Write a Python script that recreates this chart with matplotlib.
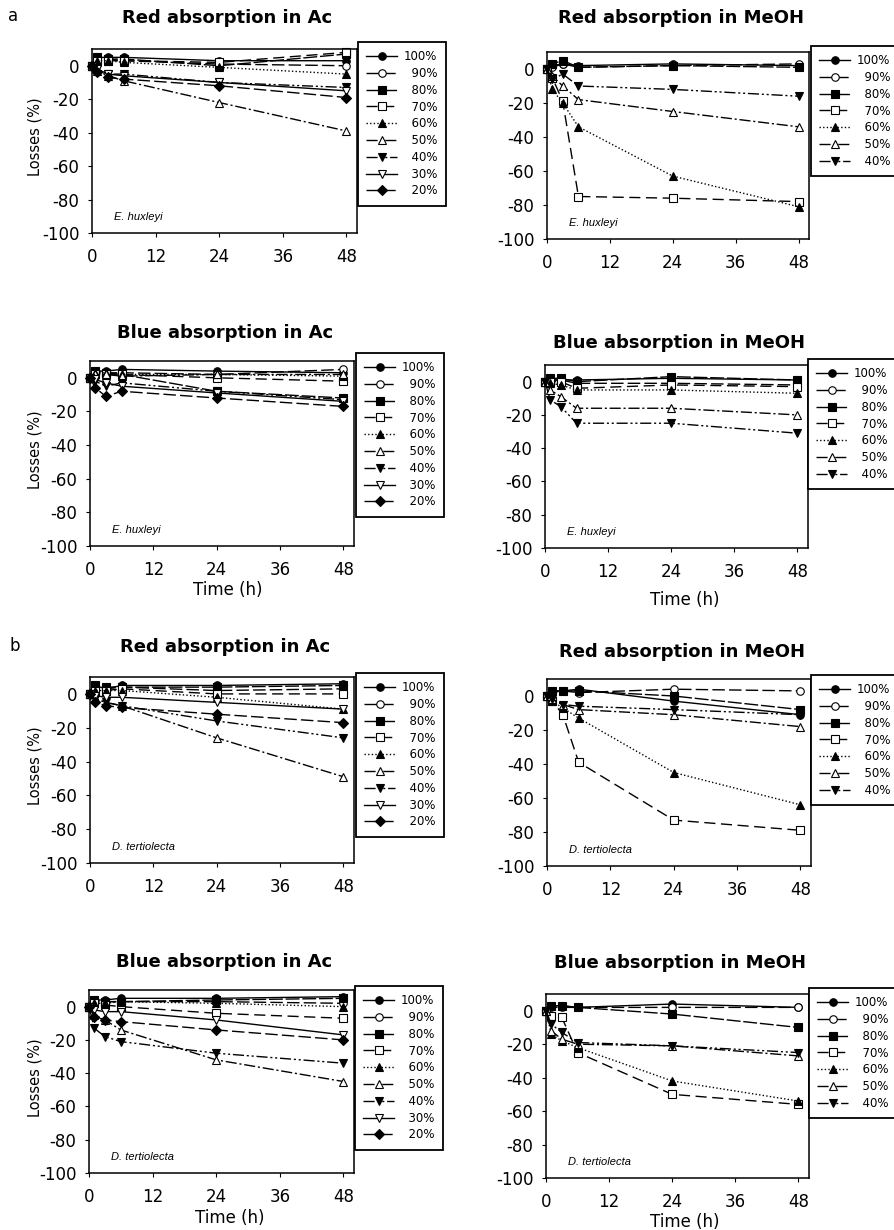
import matplotlib
matplotlib.use('Agg')
import matplotlib.pyplot as plt

W, H = 895, 1230
plt.rcParams['font.family'] = ['DejaVu Sans']
plt.rcParams['axes.unicode_minus'] = False

# ---------------- data ----------------
times = [0, 1, 3, 6, 24, 48]
series_labels = ['100%', '90%', '80%', '70%', '60%', '50%', '40%', '30%', '20%']
yticks = [0, -20, -40, -60, -80, -100]
xticks = [0, 12, 24, 36, 48]

titles = ['Red absorption in Ac', 'Red absorption in MeOH',
          'Blue absorption in Ac', 'Blue absorption in MeOH',
          'Red absorption in Ac', 'Red absorption in MeOH',
          'Blue absorption in Ac', 'Blue absorption in MeOH']
species = ['E. huxleyi'] * 4 + ['D. tertiolecta'] * 4

red_ac_ehux = [
    [0, 5, 5, 5, 3, 3],
    [0, 4, 4, 3, 1, 0],
    [0, 5, 4, 4, 0, 7],
    [0, 3, 3, 3, 2, 8],
    [0, 3, 3, 2, -1, -5],
    [0, -3, -6, -9, -22, -39],
    [0, -2, -5, -5, -10, -13],
    [0, -2, -5, -6, -10, -15],
    [0, -4, -7, -8, -12, -19],
]
red_meoh_ehux = [
    [0, 2, 3, 2, 3, 2],
    [0, 1, 3, 1, 2, 3],
    [0, 3, 5, 1, 2, 1],
    [0, -5, -19, -75, -76, -78],
    [0, -12, -20, -34, -63, -81],
    [0, -4, -10, -18, -25, -34],
    [0, -6, -3, -10, -12, -16],
]
blue_ac_ehux = [
    [0, 4, 4, 5, 4, 3],
    [0, 3, 3, 3, 2, 5],
    [0, 4, 3, 2, -8, -12],
    [0, 2, 2, 2, 0, -2],
    [0, 3, 3, 2, 2, 1],
    [0, 2, 2, 1, 2, 2],
    [0, -2, -5, -3, -8, -13],
    [0, -1, -3, -5, -9, -14],
    [0, -6, -11, -8, -12, -17],
]
blue_meoh_ehux = [
    [0, 1, 1, 1, 2, 1],
    [0, 1, 1, -1, -1, -2],
    [0, 2, 2, 0, 3, 1],
    [0, 0, 0, -4, -2, -3],
    [0, -1, -2, -5, -5, -7],
    [0, -5, -9, -16, -16, -20],
    [0, -11, -15, -25, -25, -31],
]
red_ac_dter = [
    [0, 5, 3, 5, 5, 6],
    [0, 4, 3, 4, 2, 3],
    [0, 5, 4, 4, 4, 5],
    [0, 2, 2, 3, 0, 0],
    [0, 2, 2, 2, -2, -9],
    [0, -3, -5, -7, -26, -49],
    [0, -3, -5, -7, -16, -26],
    [0, -1, -2, -2, -5, -9],
    [0, -5, -7, -8, -12, -17],
]
red_meoh_dter = [
    [0, 3, 3, 4, -3, -11],
    [0, 2, 3, 2, 4, 3],
    [0, 3, 3, 3, 0, -8],
    [0, -3, -11, -39, -73, -79],
    [0, -3, -7, -13, -45, -64],
    [0, -2, -5, -8, -11, -18],
    [0, -2, -5, -6, -8, -11],
]
blue_ac_dter = [
    [0, 4, 4, 5, 5, 6],
    [0, 3, 3, 3, 3, 2],
    [0, 4, 3, 3, 4, 5],
    [0, 2, 1, 0, -4, -7],
    [0, 2, 2, 3, 2, 0],
    [0, -5, -8, -14, -32, -45],
    [0, -13, -18, -21, -28, -34],
    [0, -2, -3, -3, -8, -17],
    [0, -6, -8, -9, -14, -20],
]
blue_meoh_dter = [
    [0, 3, 3, 2, 4, 2],
    [0, 2, 2, 2, 2, 2],
    [0, 3, 3, 2, -2, -10],
    [0, -3, -4, -25, -50, -56],
    [0, -14, -18, -22, -42, -54],
    [0, -12, -17, -20, -21, -27],
    [0, -8, -13, -19, -21, -25],
]

panels = [red_ac_ehux, red_meoh_ehux, blue_ac_ehux, blue_meoh_ehux,
          red_ac_dter, red_meoh_dter, blue_ac_dter, blue_meoh_dter]

# ---------------- styles ----------------
markers = ['o', 'o', 's', 's', '^', '^', 'v', 'v', 'D']
filled = [True, False, True, False, True, False, True, False, True]
linestyles = ['-', (0, (9, 3)), (0, (10, 2)), (0, (8, 4)), (0, (1, 1.6)),
              (0, (8, 2, 1.5, 2)), (0, (8, 2, 1.5, 2, 1.5, 2)), '-', (0, (9, 3))]

# pixel layout: (left, right, top, bottom)
axes_px = [(92, 357, 49, 233), (547, 809, 52, 239),
           (90, 354, 361, 546), (545, 808, 365, 548),
           (90, 354, 677, 863), (547, 811, 679, 866),
           (89, 354, 990, 1173), (546, 809, 994, 1178)]
legend_px = [(358, 42), (811, 46), (356, 353), (808, 359),
             (356, 673), (811, 675), (355, 986), (809, 988)]
title_y = [18, 18, 333, 343, 647, 652, 962, 963]

fig = plt.figure(figsize=(W / 100, H / 100), dpi=100)
fig.patch.set_facecolor('white')


def rect(l, r, t, b):
    return [l / W, 1 - b / H, (r - l) / W, (b - t) / H]


for i, data in enumerate(panels):
    l, r, t, b = axes_px[i]
    ax = fig.add_axes(rect(l, r, t, b))
    for j, vals in enumerate(data):
        ms = 4.6 if markers[j] == 'D' else 5.4
        ax.plot(times, vals, color='black', lw=1.0, ls=linestyles[j],
                marker=markers[j], ms=ms, mew=0.8,
                mfc='black' if filled[j] else 'white', mec='black',
                clip_on=False, label=series_labels[j].rjust(4, '\u2007'))
    ax.set_xlim(0, 50)
    ax.set_ylim(-100, 10)
    ax.set_xticks(xticks)
    ax.set_yticks(yticks)
    ax.tick_params(axis='x', labelsize=12, pad=8, length=3, width=0.8, direction='out')
    ax.tick_params(axis='y', labelsize=12, pad=6, length=3, width=0.8, direction='out')
    for s in ax.spines.values():
        s.set_linewidth(1.1)
    wpx, hpx = r - l, b - t
    ax.text(22 / wpx, 16 / hpx, species[i], transform=ax.transAxes,
            fontsize=8, fontstyle='italic', family='Liberation Sans',
            ha='left', va='center')
    lx, ly = legend_px[i]
    leg = ax.legend(loc='upper left', bbox_to_anchor=(lx / W, 1 - ly / H),
                    bbox_transform=fig.transFigure, borderaxespad=0,
                    fontsize=8.5, handlelength=2.6, labelspacing=0.32,
                    handletextpad=0.6, borderpad=0.7, fancybox=False,
                    framealpha=1, edgecolor='black')
    leg.get_frame().set_linewidth(1.3)
    # title
    fig.text(((l + r) / 2 + 3) / W, 1 - title_y[i] / H, titles[i],
             ha='center', va='center', fontsize=13, fontweight='bold')
    # y label on left column
    if i % 2 == 0:
        fig.text(35 / W, 1 - ((t + b) / 2 - 4) / H, 'Losses (%)',
                 rotation=90, ha='center', va='center', fontsize=10.5)

# x labels
fig.text(228 / W, 1 - 590 / H, 'Time (h)', ha='center', va='center', fontsize=12)
fig.text(685 / W, 1 - 600 / H, 'Time (h)', ha='center', va='center', fontsize=12)
fig.text(230 / W, 1 - 1218 / H, 'Time (h)', ha='center', va='center', fontsize=12)
fig.text(685 / W, 1 - 1222 / H, 'Time (h)', ha='center', va='center', fontsize=12)

# panel letters
fig.text(13 / W, 1 - 16 / H, 'a', ha='center', va='center', fontsize=12)
fig.text(15 / W, 1 - 646 / H, 'b', ha='center', va='center', fontsize=12)

fig.savefig('out.png', dpi=100)
